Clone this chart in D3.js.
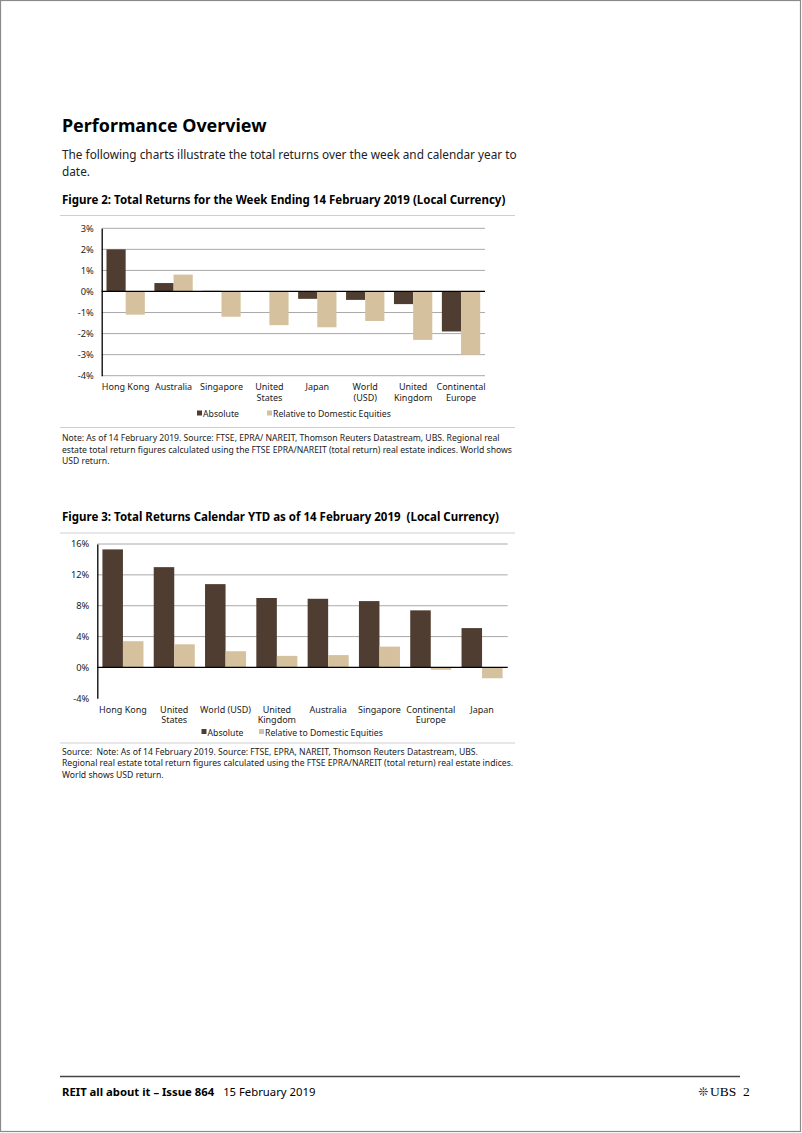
<!DOCTYPE html>
<html><head><meta charset="utf-8">
<script src="https://cdn.jsdelivr.net/npm/d3@7"></script>
<style>
body{margin:0;background:#fff;}
svg{display:block;}
text{font-family:"Noto Sans",sans-serif;fill:#000;white-space:pre;}
</style></head>
<body>
<script>
// ---------- DATA ----------
const seriesNames = ["Absolute", "Relative to Domestic Equities"];

const weekCategories = [["Hong Kong"],["Australia"],["Singapore"],["United","States"],["Japan"],["World","(USD)"],["United","Kingdom"],["Continental","Europe"]];
const weekAbsolute = [2.0, 0.4, 0.03, 0.0, -0.35, -0.4, -0.6, -1.9];
const weekRelative = [-1.1, 0.8, -1.2, -1.6, -1.7, -1.4, -2.3, -3.0];
const weekTicks = [3, 2, 1, 0, -1, -2, -3, -4];

const ytdCategories = [["Hong Kong"],["United","States"],["World (USD)"],["United","Kingdom"],["Australia"],["Singapore"],["Continental","Europe"],["Japan"]];
const ytdAbsolute = [15.3, 13.0, 10.8, 9.0, 8.9, 8.6, 7.4, 5.1];
const ytdRelative = [3.4, 3.0, 2.1, 1.5, 1.6, 2.7, -0.3, -1.4];
const ytdTicks = [16, 12, 8, 4, 0, -4];

const colors = ["#4f3d31", "#d5c19e"];

// ---------- PAGE ----------
const W = 802, H = 1133;
const svg = d3.select("body").append("svg").attr("width", W).attr("height", H);
svg.append("rect").attr("x",0.5).attr("y",0.5).attr("width",W-2).attr("height",H-2)
  .attr("fill","#fff").attr("stroke","#8a8a8a").attr("stroke-width",1.2);

svg.append("text").attr("x",62).attr("y",132).attr("font-size",17.9).attr("font-weight","bold")
  .text("Performance Overview");
svg.append("text").attr("x",62).attr("y",158.5).attr("font-size",11.8).style("fill","#222")
  .text("The following charts illustrate the total returns over the week and calendar year to");
svg.append("text").attr("x",62).attr("y",175.5).attr("font-size",11.8).style("fill","#222")
  .text("date.");

function sep(y){
  svg.append("line").attr("x1",60).attr("x2",515).attr("y1",y).attr("y2",y)
    .attr("stroke","#cfcfcf").attr("stroke-width",1);
}

function chart(opt){
  const g = svg.append("g");
  g.append("text").attr("x",62).attr("y",opt.titleY).attr("font-size",11.5).attr("font-weight","bold")
    .text(opt.title);
  sep(opt.sepTop);

  const y = d3.scaleLinear().domain(opt.domain).range(opt.yRange);
  const x = d3.scaleBand().domain(d3.range(opt.cats.length)).range(opt.xRange)
    .paddingInner(0.2).paddingOuter(0.1);
  const xs = d3.scaleBand().domain([0,1]).range([0, x.bandwidth()]).padding(0);

  // gridlines
  g.append("g").selectAll("line").data(opt.grid).join("line")
    .attr("x1", opt.xRange[0]).attr("x2", opt.gridEnd)
    .attr("y1", d=>y(d)).attr("y2", d=>y(d))
    .attr("stroke","#a9a9a9").attr("stroke-width",1);

  // bars
  const series = [opt.abs, opt.rel];
  series.forEach((vals, si) => {
    g.append("g").selectAll("rect").data(vals).join("rect")
      .attr("x",(d,i)=>x(i)+xs(si))
      .attr("width", xs.bandwidth())
      .attr("y", d=>y(Math.max(0,d)))
      .attr("height", d=>Math.abs(y(d)-y(0)))
      .attr("fill", colors[si]);
  });

  // zero line
  g.append("line").attr("x1",opt.xRange[0]).attr("x2",opt.gridEnd)
    .attr("y1",y(0)).attr("y2",y(0)).attr("stroke","#000").attr("stroke-width",1.3);

  // y axis
  const ax = d3.axisLeft(y).tickValues(opt.ticks).tickSize(0).tickPadding(8)
    .tickFormat(d=>d+"%");
  const axg = g.append("g").attr("transform",`translate(${opt.xRange[0]},0)`).call(ax);
  axg.select(".domain").attr("stroke","#000").attr("stroke-width",1.3);
  axg.selectAll("text").attr("font-size",9.3).style("fill","#222");

  // category labels
  const cl = g.append("g").selectAll("text").data(opt.cats).join("text")
    .attr("x",(d,i)=>x(i)+x.bandwidth()/2)
    .attr("y",opt.catY).attr("text-anchor","middle").attr("font-size",9).style("fill","#222");
  cl.each(function(d){
    d3.select(this).selectAll("tspan").data(d).join("tspan")
      .attr("x", d3.select(this).attr("x")).attr("dy",(t,j)=>j===0?0:10.8).text(t=>t);
  });

  // legend
  const lg = g.append("g");
  seriesNames.forEach((n,i)=>{
    lg.append("rect").attr("x",opt.legX[i]).attr("y",opt.legY-6.5).attr("width",5).attr("height",5).attr("fill",colors[i]);
    lg.append("text").attr("x",opt.legX[i]+6).attr("y",opt.legY).attr("font-size",8.7).style("fill","#222").text(n);
  });

  sep(opt.sepBottom);
  opt.notes.forEach((t,i)=>{
    g.append("text").attr("x",62).attr("y",opt.noteY + i*11.4).attr("font-size",8.65).style("fill","#222").text(t);
  });
}

chart({
  title: "Figure 2: Total Returns for the Week Ending 14 February 2019 (Local Currency)",
  titleY: 204, sepTop: 215.5,
  domain:[3,-4], yRange:[228.3,375.7], ticks: weekTicks, grid: weekTicks.filter(d=>d!==0),
  xRange:[101.7,485], gridEnd:485,
  cats: weekCategories, abs: weekAbsolute, rel: weekRelative,
  catY: 390, legY: 417, legX:[197, 267],
  sepBottom: 427.5,
  notes:["Note: As of 14 February 2019. Source: FTSE, EPRA/ NAREIT, Thomson Reuters Datastream, UBS. Regional real",
         "estate total return figures calculated using the FTSE EPRA/NAREIT (total return) real estate indices. World shows",
         "USD return."],
  noteY: 441.3
});

chart({
  title: "Figure 3: Total Returns Calendar YTD as of 14 February 2019  (Local Currency)",
  titleY: 520.5, sepTop: 533,
  domain:[16,-4], yRange:[544,698.3], ticks: ytdTicks, grid: ytdTicks.filter(d=>d!==0 && d!==-4),
  xRange:[97.3,507.7], gridEnd:507.7,
  cats: ytdCategories, abs: ytdAbsolute, rel: ytdRelative,
  catY: 712.5, legY: 735.5, legX:[201.5, 259],
  sepBottom: 743,
  notes:["Source:  Note: As of 14 February 2019. Source: FTSE, EPRA, NAREIT, Thomson Reuters Datastream, UBS.",
         "Regional real estate total return figures calculated using the FTSE EPRA/NAREIT (total return) real estate indices.",
         "World shows USD return."],
  noteY: 754.7
});

// footer
svg.append("line").attr("x1",60).attr("x2",740).attr("y1",1076.5).attr("y2",1076.5)
  .attr("stroke","#444").attr("stroke-width",1.3);
const ft = svg.append("text").attr("x",62).attr("y",1095.5).attr("font-size",11.3);
ft.append("tspan").attr("font-weight","bold").text("REIT all about it – Issue 864");
ft.append("tspan").attr("dx",9).text("15 February 2019");
svg.append("text").attr("x",698).attr("y",1095.5).attr("font-size",12)
  .style("font-family","'DejaVu Sans',sans-serif").style("fill","#333").text("❊");
svg.append("text").attr("x",710).attr("y",1095.5).attr("font-size",13.5)
  .style("font-family","'Liberation Serif',serif").text("UBS  2");
</script>
</body></html>
